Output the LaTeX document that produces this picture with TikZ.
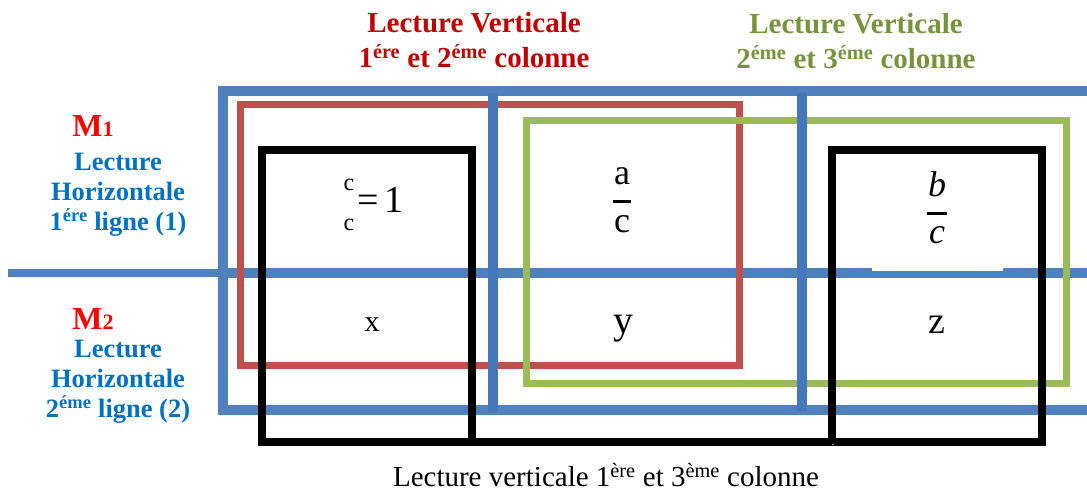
\documentclass[tikz,border=0pt]{standalone}
\usepackage{fontspec}
\setmainfont{Liberation Serif}
\definecolor{gridblue}{HTML}{4F81BD}
\definecolor{gridblueD}{HTML}{4677BA}
\definecolor{boxred}{HTML}{C0504D}
\definecolor{boxgreen}{HTML}{9BBB59}
\definecolor{titlered}{HTML}{C00000}
\definecolor{titlegreen}{HTML}{77933C}
\definecolor{mred}{HTML}{FF0000}
\definecolor{textblue}{HTML}{0070C0}
\tikzset{
  shad/.style={preaction={draw=black!35, transform canvas={shift={(1.5pt,-2.5pt)}}}},
  bluegrid/.style={draw=gridblue, line width=10pt},
  redbox/.style={draw=boxred, line width=7pt, shad},
  greenbox/.style={draw=boxgreen, line width=7pt, shad},
  blackbox/.style={draw=black, line width=8pt, shad},
  toptitle/.style={font=\fontsize{29}{35}\selectfont\bfseries, align=center, inner sep=0pt},
  sidelabel/.style={font=\fontsize{26.5}{30}\selectfont\bfseries, text=textblue, align=center, inner sep=0pt},
  mlabel/.style={font=\fontsize{32}{32}\selectfont\bfseries, text=mred, inner sep=0pt},
  cell/.style={inner sep=0pt, anchor=center},
}
\begin{document}
\begin{tikzpicture}[x=1pt,y=-1pt]
\useasboundingbox (0,0) rectangle (1087,493);
% blue grid (horizontal parts)
\draw[bluegrid] (1092,91) -- (223,91) -- (223,410) -- (1092,410);
\draw[draw=gridblue, line width=8pt] (8,273) -- (220,273);
\draw[bluegrid] (218,273) -- (1092,273);
% red and green boxes
\draw[redbox] (240,104) rectangle (739,365);
\draw[greenbox] (526,120) rectangle (1066,383);
% blue verticals
\draw[draw=gridblueD, line width=10pt] (493,93) -- (493,412);
\draw[draw=gridblueD, line width=10pt] (802,93) -- (802,412);
% white patch of the formula object
\fill[white] (872,154) rectangle (1003,270.5);
% black boxes
\draw[blackbox] (262,150) rectangle (472,442) (832,150) rectangle (1042,442);
\draw[blackbox] (472,442) -- (832,442);
% titles
\node[toptitle, text=titlered] (t1) at (474,40) {Lecture Verticale\\1\textsuperscript{ére} et 2\textsuperscript{éme} colonne};
\node[toptitle, text=titlegreen] (t2) at (856,41) {Lecture Verticale\\2\textsuperscript{éme} et 3\textsuperscript{éme} colonne};
% side labels
\node[mlabel] (m1) at (93,126) {M{\fontsize{22}{22}\selectfont 1}};
\node[sidelabel] (l1) at (118,195) {Lecture\\Horizontale\\1\textsuperscript{ére} ligne (1)};
\node[mlabel] (m2) at (93,319) {M{\fontsize{22}{22}\selectfont 2}};
\node[sidelabel] (l2) at (118,382) {Lecture\\Horizontale\\2\textsuperscript{éme} ligne (2)};
% bottom label
\node[inner sep=0pt, font=\fontsize{29}{35}\selectfont] (bl) at (606,475) {Lecture verticale 1\textsuperscript{ère} et 3\textsuperscript{ème} colonne};
% cell contents
\node[cell, font=\fontsize{24}{24}\selectfont] (c1a) at (349,185) {c};
\node[cell, font=\fontsize{24}{24}\selectfont] (c1b) at (349,225) {c};
\node[cell, font=\fontsize{38}{38}\selectfont, anchor=west] (c1c) at (357,200) {=\,1};
\node[cell, font=\fontsize{36}{36}\selectfont] (a1) at (622,176) {a};
\draw[line width=3pt] (613,201) -- (631,201);
\node[cell, font=\fontsize{36}{36}\selectfont] (a2) at (622,224) {c};
\node[cell, font=\fontsize{36}{36}\selectfont\itshape] (b1) at (937,184) {b};
\draw[line width=3pt] (927,213) -- (947,213);
\node[cell, font=\fontsize{36}{36}\selectfont\itshape] (b2) at (937,235) {c};
\node[cell, font=\fontsize{30}{30}\selectfont] (x) at (372,325) {x};
\node[cell, font=\fontsize{40}{40}\selectfont] (y) at (623,329) {y};
\node[cell, font=\fontsize{38}{38}\selectfont] (z) at (937,325) {z};
\end{tikzpicture}
\end{document}
